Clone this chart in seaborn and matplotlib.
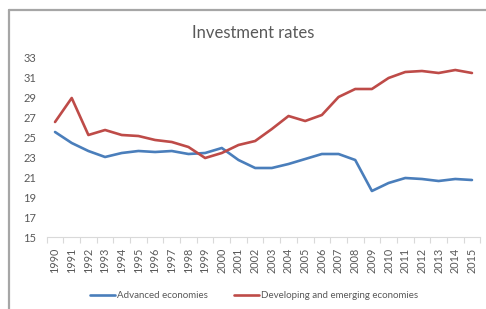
import matplotlib
matplotlib.use("Agg")
import matplotlib.pyplot as plt
from matplotlib.lines import Line2D
import seaborn as sns
import pandas as pd
import numpy as np

years = list(range(1990, 2016))
advanced = [25.5, 24.4, 23.6, 23.0, 23.4, 23.6, 23.5, 23.6, 23.3, 23.4, 23.9, 22.7, 21.9,
            21.9, 22.3, 22.8, 23.3, 23.3, 22.7, 19.6, 20.4, 20.9, 20.8, 20.6, 20.8, 20.7]
developing = [26.5, 28.9, 25.2, 25.7, 25.2, 25.1, 24.7, 24.5, 24.0, 22.9, 23.4, 24.2, 24.6,
              25.8, 27.1, 26.6, 27.2, 29.0, 29.8, 29.8, 30.9, 31.5, 31.6, 31.4, 31.7, 31.4]
series_names = ["Advanced economies", "Developing and emerging economies"]
colors = ["#4A7EBB", "#BE4B48"]
title = "Investment rates"

df = pd.DataFrame({
    "year": years * 2,
    "value": advanced + developing,
    "series": [series_names[0]] * len(years) + [series_names[1]] * len(years),
})

sns.set_theme(style="white")
plt.rcParams["font.family"] = ["Lato", "DejaVu Sans"]

fig = plt.figure(figsize=(4.86, 3.09), dpi=100)
ax = fig.add_axes([46.7 / 486, 72 / 309, (480.3 - 46.7) / 486, 180 / 309])

sns.lineplot(data=df, x="year", y="value", hue="series", palette=colors,
             linewidth=1.9, ax=ax, legend=False)

ax.set_xlim(1989.5, 2015.5)
ax.set_ylim(15, 33)
ax.set_yticks(range(15, 34, 2))
ax.set_xticks(years)
ax.set_xticklabels([str(y) for y in years], rotation=90, fontsize=7.8, color="#595959")
ax.set_yticklabels([str(v) for v in range(15, 34, 2)], fontsize=8, color="#595959")
ax.set_xticks(np.arange(1989.5, 2016, 1), minor=True)
ax.tick_params(axis="x", which="major", length=0, pad=8)
ax.tick_params(axis="x", which="minor", length=4, color="#D9D9D9", width=0.8, bottom=True)
ax.tick_params(axis="y", length=0, pad=17)
for lab in ax.get_yticklabels():
    lab.set_horizontalalignment("left")
ax.set_xlabel("")
ax.set_ylabel("")
for s in ["top", "right", "left"]:
    ax.spines[s].set_visible(False)
ax.spines["bottom"].set_color("#D9D9D9")
ax.spines["bottom"].set_linewidth(0.8)

fig.text(253 / 486, 1 - 33 / 309, title, ha="center", va="center", fontsize=12, color="#595959")

handles = [Line2D([0], [0], color=c, linewidth=1.9) for c in colors]
fig.legend(handles, series_names, loc="center", bbox_to_anchor=(254 / 486, 1 - 296 / 309),
           ncol=2, frameon=False, fontsize=7, handlelength=2.6, handletextpad=0.2,
           columnspacing=2.6, labelcolor="#595959")

# chart border (top and left)
fig.add_artist(Line2D([9 / 486, 9 / 486], [0, 1 - 10 / 309], transform=fig.transFigure,
                      color="#A6A6A6", linewidth=1.6))
fig.add_artist(Line2D([9 / 486, 1], [1 - 10 / 309, 1 - 10 / 309], transform=fig.transFigure,
                      color="#A6A6A6", linewidth=1.6))

fig.savefig("out.png", dpi=100)
